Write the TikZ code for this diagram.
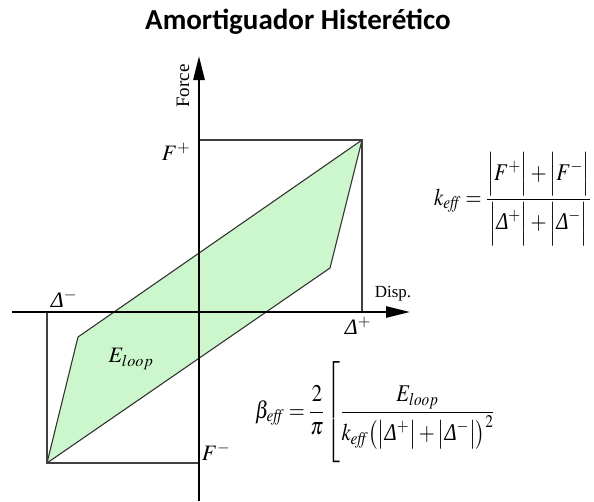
\documentclass[tikz,border=0pt]{standalone}
\usepackage{mathptmx}
\usepackage[no-math]{fontspec}
\setmainfont{Liberation Serif}
\newfontfamily\titlefont{Carlito}
\usetikzlibrary{arrows.meta,positioning}
\definecolor{loopgreen}{RGB}{204,246,204}
\newcommand{\IDelta}{\mathord{\mbox{\normalfont\itshape Δ}}}
\newcommand{\narrow}[1]{\scalebox{0.86}[1]{#1}}

\begin{document}
\begin{tikzpicture}[
  x=1pt, y=-1pt,
  >={Triangle[length=24pt,width=11pt]},
  axis/.style={line width=2.6pt},
  frame/.style={draw=black!75, line width=1.1pt},
  loopfill/.style={draw=black!80, fill=loopgreen, line width=1.1pt, line join=round},
  lbl/.style={font=\fontsize{22}{24}\selectfont, inner sep=0pt},
  eqn/.style={font=\fontsize{24}{26}\selectfont, inner sep=0pt},
]
\useasboundingbox (0,0) rectangle (594,501);

% ---- title -----------------------------------------------------------------
\node[font=\titlefont\bfseries\fontsize{29}{32}\selectfont] (title) at (298,22) {Amortiguador Histerético};

% ---- corner points -----------------------------------------------------------
\coordinate (O)  at (199,312);
\coordinate (Fp) at (199,140); \coordinate (Pp) at (362,140); \coordinate (Dp) at (362,312);
\coordinate (Fm) at (199,463); \coordinate (Pm) at (47,463);  \coordinate (Dm) at (47,312);
\coordinate (kR) at (330,268); \coordinate (kL) at (78,337);

% ---- loop and frame ----------------------------------------------------------
\draw[loopfill] (Pp) -- (kR) -- (Pm) -- (kL) -- cycle;
\draw[frame] (Fp) -- (Pp) -- (Dp);
\draw[frame] (Dm) -- (Pm) -- (Fm);

% ---- axes ------------------------------------------------------------------
\coordinate (ybot) at (199,501); \coordinate (ytop) at (199,56);
\coordinate (xleft) at (12,312); \coordinate (xright) at (410,312);
\draw[axis,->] (ybot) -- (ytop);
\draw[axis,->] (xleft) -- (xright);
\node[font=\fontsize{19}{20}\selectfont, rotate=90, inner sep=0pt] (force) at (183,86) {Force};
\node[font=\fontsize{17}{18}\selectfont, inner sep=0pt] (disp) at (393,294) {Disp.};

% ---- labels ----------------------------------------------------------------
\node[lbl] (lFp) at (176,152) {$F^{+}$};
\node[lbl] (lFm) at (216,452) {$F^{-}$};
\node[lbl] (lDm) at (64,299) {$\IDelta^{-}$};
\node[lbl] (lDp) at (358,326) {$\IDelta^{+}$};
\node[lbl] (lE)  at (131,359) {$E_{loop}$};

% ---- formulas ----------------------------------------------------------------
\node[eqn, anchor=west] (keff) at (434,199)
  {\narrow{$\displaystyle k_{\mathit{eff}}=\frac{\Bigl|F^{+}\Bigr|+\Bigl|F^{-}\Bigr|}{\Bigl|\IDelta^{+}\Bigr|+\Bigl|\IDelta^{-}\Bigr|}$}};
\node[eqn, anchor=west] (beff) at (255,412)
  {\narrow{$\displaystyle \beta_{\mathit{eff}}=\frac{2}{\pi}\left[\vcenter{\hbox{\rule{0pt}{102pt}}}\frac{E_{loop}}{k_{\mathit{eff}}\bigl(\bigl|\IDelta^{+}\bigr|+\bigl|\IDelta^{-}\bigr|\bigr)^{2}}\right.$}};
\end{tikzpicture}
\end{document}
